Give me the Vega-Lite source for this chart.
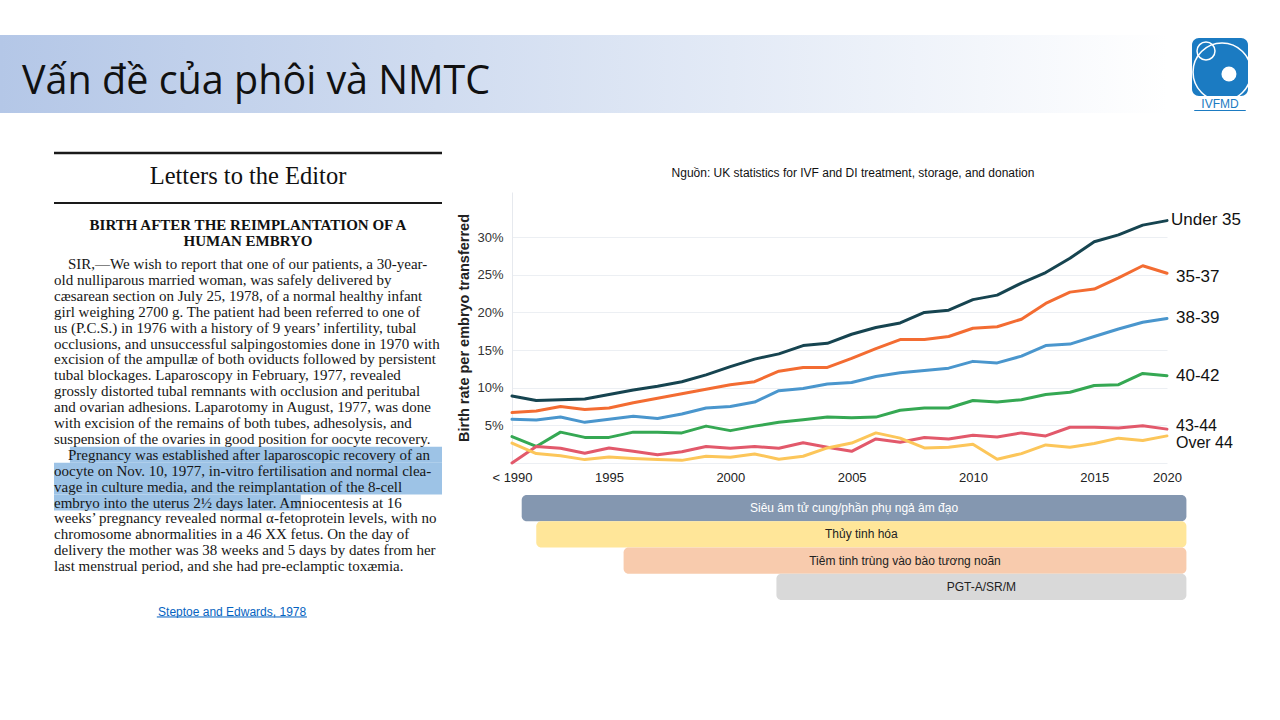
{
  "$schema": "https://vega.github.io/schema/vega-lite/v6.json",
  "background": "white",
  "padding": {"top": 35, "left": 0, "right": 0, "bottom": 0},
  "config": {"view": {"stroke": null}, "font": "Liberation Sans"},
  "bounds": "flush",
  "spacing": 157,
  "vconcat": [
    {
      "bounds": "flush",
      "spacing": 0,
      "hconcat": [
        {
          "width": 1192,
          "height": 78,
          "data": {"values": [{"heading": "Vấn đề của phôi và NMTC"}]},
          "layer": [
            {
              "mark": {"type": "rect", "fill": {"gradient": "linear", "x1": 0, "x2": 1, "y1": 0, "y2": 0, "stops": [{"offset": 0, "color": "#b4c7e7"}, {"offset": 0.98, "color": "#ffffff"}]}},
              "encoding": {
                "x": {"datum": 0, "type": "quantitative", "scale": {"domain": [0, 1], "nice": false, "zero": false}, "axis": null},
                "x2": {"datum": 1},
                "y": {"datum": 0, "type": "quantitative", "scale": {"domain": [0, 1], "nice": false, "zero": false}, "axis": null},
                "y2": {"datum": 1}
              }
            },
            {
              "mark": {"type": "text", "align": "left", "baseline": "alphabetic", "font": "Open Sans", "fontSize": 39.5, "color": "#111111"},
              "encoding": {
                "text": {"field": "heading"},
                "x": {"datum": 0.01846, "type": "quantitative", "axis": null},
                "y": {"datum": 0.2436, "type": "quantitative", "axis": null}
              }
            }
          ]
        },
        {
          "width": 56,
          "height": 61,
          "data": {"values": [{"logo": "IVFMD"}]},
          "layer": [
            {
              "mark": {"type": "rect", "fill": "#1b7bc2", "cornerRadius": 7},
              "encoding": {
                "x": {"datum": 0, "type": "quantitative", "scale": {"domain": [0, 1], "range": [0, 56], "nice": false, "zero": false}, "axis": null},
                "x2": {"datum": 1},
                "y": {"datum": 0, "type": "quantitative", "scale": {"domain": [0, 1], "range": [3, 61], "nice": false, "zero": false}, "axis": null},
                "y2": {"datum": 1}
              }
            },
            {
              "mark": {"type": "point", "shape": "circle", "filled": false, "stroke": "white", "strokeWidth": 1.5, "size": 3364, "opacity": 1, "clip": true},
              "encoding": {
                "x": {"datum": 0.536, "type": "quantitative", "axis": null},
                "y": {"datum": 0.586, "type": "quantitative", "axis": null}
              }
            },
            {
              "mark": {"type": "point", "shape": "circle", "filled": false, "stroke": "white", "strokeWidth": 1.5, "size": 324, "opacity": 1},
              "encoding": {
                "x": {"datum": 0.25, "type": "quantitative", "axis": null},
                "y": {"datum": 0.224, "type": "quantitative", "axis": null}
              }
            },
            {
              "mark": {"type": "circle", "fill": "white", "size": 225, "opacity": 1},
              "encoding": {
                "x": {"datum": 0.66, "type": "quantitative", "axis": null},
                "y": {"datum": 0.62, "type": "quantitative", "axis": null}
              }
            },
            {
              "mark": {"type": "text", "baseline": "middle", "align": "center", "fontSize": 12, "color": "#1b7bc2"},
              "encoding": {
                "text": {"field": "logo"},
                "x": {"datum": 0.5, "type": "quantitative", "axis": null},
                "y": {"datum": 1.14, "type": "quantitative", "axis": null}
              }
            },
            {
              "mark": {"type": "rule", "color": "#1b7bc2", "strokeWidth": 1},
              "encoding": {
                "x": {"datum": 0.04, "type": "quantitative", "axis": null},
                "x2": {"datum": 0.96},
                "y": {"datum": 1.25, "type": "quantitative", "axis": null}
              }
            }
          ]
        }
      ]
    },
    {
      "bounds": "flush",
      "spacing": 70,
      "hconcat": [
        {
          "width": 442,
          "height": 420,
          "layer": [
            {
              "data": {"values": [{"span": "highlight"}]},
              "mark": {"type": "rect", "fill": "#9dc3e6"},
              "encoding": {
                "x": {"datum": 0.041, "type": "quantitative", "scale": {"domain": [0, 1], "range": [54, 442], "nice": false, "zero": false}, "axis": null},
                "x2": {"datum": 1},
                "y": {"datum": 12.5, "type": "quantitative", "scale": {"domain": [1, 20], "range": [72, 374.1], "nice": false, "zero": false}, "axis": null},
                "y2": {"datum": 13.5}
              }
            },
            {
              "data": {"values": [{"span": "highlight"}]},
              "mark": {"type": "rect", "fill": "#9dc3e6"},
              "encoding": {
                "x": {"datum": 0, "type": "quantitative", "axis": null},
                "x2": {"datum": 1},
                "y": {"datum": 13.5, "type": "quantitative", "axis": null},
                "y2": {"datum": 15.5}
              }
            },
            {
              "data": {"values": [{"span": "highlight"}]},
              "mark": {"type": "rect", "fill": "#9dc3e6"},
              "encoding": {
                "x": {"datum": 0, "type": "quantitative", "axis": null},
                "x2": {"datum": 0.636},
                "y": {"datum": 15.5, "type": "quantitative", "axis": null},
                "y2": {"datum": 16.5}
              }
            },
            {
              "data": {"values": [{"rule": "top"}]},
              "mark": {"type": "rule", "color": "#1a1a1a", "strokeWidth": 2.5},
              "encoding": {
                "x": {"datum": 0, "type": "quantitative", "axis": null},
                "x2": {"datum": 1},
                "y": {"datum": -5.98, "type": "quantitative", "axis": null}
              }
            },
            {
              "data": {"values": [{"rule": "second"}]},
              "mark": {"type": "rule", "color": "#1a1a1a", "strokeWidth": 2},
              "encoding": {
                "x": {"datum": 0, "type": "quantitative", "axis": null},
                "x2": {"datum": 1},
                "y": {"datum": -2.84, "type": "quantitative", "axis": null}
              }
            },
            {
              "data": {"values": [{"h": "Letters to the Editor"}]},
              "mark": {"type": "text", "align": "center", "baseline": "middle", "font": "Liberation Serif", "fontSize": 24.5, "color": "#111111"},
              "encoding": {
                "text": {"field": "h"},
                "x": {"datum": 0.5, "type": "quantitative", "axis": null},
                "y": {"datum": -4.49, "type": "quantitative", "axis": null}
              }
            },
            {
              "data": {"values": [{"h": "BIRTH AFTER THE REIMPLANTATION OF A"}]},
              "mark": {"type": "text", "align": "center", "baseline": "middle", "font": "Liberation Serif", "fontSize": 15, "fontWeight": "bold", "color": "#111111"},
              "encoding": {
                "text": {"field": "h"},
                "x": {"datum": 0.5, "type": "quantitative", "axis": null},
                "y": {"datum": -1.45, "type": "quantitative", "axis": null}
              }
            },
            {
              "data": {"values": [{"h": "HUMAN EMBRYO"}]},
              "mark": {"type": "text", "align": "center", "baseline": "middle", "font": "Liberation Serif", "fontSize": 15, "fontWeight": "bold", "color": "#111111"},
              "encoding": {
                "text": {"field": "h"},
                "x": {"datum": 0.5, "type": "quantitative", "axis": null},
                "y": {"datum": -0.45, "type": "quantitative", "axis": null}
              }
            },
            {
              "data": {"values": [
                {"line": 1, "text": "SIR,—We wish to report that one of our patients, a 30-year-"},
                {"line": 2, "text": "old nulliparous married woman, was safely delivered by"},
                {"line": 3, "text": "cæsarean section on July 25, 1978, of a normal healthy infant"},
                {"line": 4, "text": "girl weighing 2700 g. The patient had been referred to one of"},
                {"line": 5, "text": "us (P.C.S.) in 1976 with a history of 9 years’ infertility, tubal"},
                {"line": 6, "text": "occlusions, and unsuccessful salpingostomies done in 1970 with"},
                {"line": 7, "text": "excision of the ampullæ of both oviducts followed by persistent"},
                {"line": 8, "text": "tubal blockages. Laparoscopy in February, 1977, revealed"},
                {"line": 9, "text": "grossly distorted tubal remnants with occlusion and peritubal"},
                {"line": 10, "text": "and ovarian adhesions. Laparotomy in August, 1977, was done"},
                {"line": 11, "text": "with excision of the remains of both tubes, adhesolysis, and"},
                {"line": 12, "text": "suspension of the ovaries in good position for oocyte recovery."},
                {"line": 13, "text": "Pregnancy was established after laparoscopic recovery of an"},
                {"line": 14, "text": "oocyte on Nov. 10, 1977, in-vitro fertilisation and normal clea-"},
                {"line": 15, "text": "vage in culture media, and the reimplantation of the 8-cell"},
                {"line": 16, "text": "embryo into the uterus 2½ days later. Amniocentesis at 16"},
                {"line": 17, "text": "weeks’ pregnancy revealed normal α-fetoprotein levels, with no"},
                {"line": 18, "text": "chromosome abnormalities in a 46 XX fetus. On the day of"},
                {"line": 19, "text": "delivery the mother was 38 weeks and 5 days by dates from her"},
                {"line": 20, "text": "last menstrual period, and she had pre-eclamptic toxæmia."}
              ]},
              "layer": [
                {
                  "transform": [{"filter": "datum.line != 1 && datum.line != 13"}],
                  "mark": {"type": "text", "align": "left", "baseline": "middle", "font": "Liberation Serif", "fontSize": 15, "color": "#161616"},
                  "encoding": {
                    "text": {"field": "text"},
                    "x": {"datum": 0, "type": "quantitative", "axis": null},
                    "y": {"field": "line", "type": "quantitative", "axis": null}
                  }
                },
                {
                  "transform": [{"filter": "datum.line == 1 || datum.line == 13"}],
                  "mark": {"type": "text", "align": "left", "baseline": "middle", "dx": 14, "font": "Liberation Serif", "fontSize": 15, "color": "#161616"},
                  "encoding": {
                    "text": {"field": "text"},
                    "x": {"datum": 0, "type": "quantitative", "axis": null},
                    "y": {"field": "line", "type": "quantitative", "axis": null}
                  }
                }
              ]
            },
            {
              "data": {"values": [{"ref": "Steptoe and Edwards, 1978"}]},
              "mark": {"type": "text", "align": "center", "baseline": "middle", "fontSize": 12, "color": "#0563c1"},
              "encoding": {
                "text": {"field": "ref"},
                "x": {"datum": 0.459, "type": "quantitative", "axis": null},
                "y": {"datum": 22.87, "type": "quantitative", "axis": null}
              }
            },
            {
              "data": {"values": [{"ref": "underline"}]},
              "mark": {"type": "rule", "color": "#0563c1", "strokeWidth": 1},
              "encoding": {
                "x": {"datum": 0.265, "type": "quantitative", "axis": null},
                "x2": {"datum": 0.652},
                "y": {"datum": 23.2, "type": "quantitative", "axis": null}
              }
            }
          ]
        },
        {
          "bounds": "flush",
          "spacing": 32,
          "resolve": {"scale": {"color": "independent", "x": "independent"}},
          "vconcat": [
            {
              "width": 655,
              "height": 271,
              "title": {"text": "Nguồn: UK statistics for IVF and DI treatment, storage, and donation", "fontSize": 12, "fontWeight": "normal", "font": "Liberation Sans", "color": "#111111", "anchor": "middle", "frame": "bounds", "offset": 12, "dx": 4},
              "data": {"values": [
                {"year": 1991, "Under 35": 8.9, "35-37": 6.7, "38-39": 5.8, "40-42": 3.5, "43-44": 0.0, "Over 44": 2.65},
                {"year": 1992, "Under 35": 8.3, "35-37": 6.9, "38-39": 5.7, "40-42": 2.2, "43-44": 2.2, "Over 44": 1.25},
                {"year": 1993, "Under 35": 8.4, "35-37": 7.5, "38-39": 6.1, "40-42": 4.1, "43-44": 1.95, "Over 44": 0.95},
                {"year": 1994, "Under 35": 8.5, "35-37": 7.1, "38-39": 5.4, "40-42": 3.4, "43-44": 1.3, "Over 44": 0.45},
                {"year": 1995, "Under 35": 9.1, "35-37": 7.3, "38-39": 5.8, "40-42": 3.4, "43-44": 2.0, "Over 44": 0.8},
                {"year": 1996, "Under 35": 9.7, "35-37": 8.0, "38-39": 6.2, "40-42": 4.1, "43-44": 1.55, "Over 44": 0.6},
                {"year": 1997, "Under 35": 10.2, "35-37": 8.6, "38-39": 5.9, "40-42": 4.1, "43-44": 1.1, "Over 44": 0.45},
                {"year": 1998, "Under 35": 10.8, "35-37": 9.2, "38-39": 6.5, "40-42": 4.0, "43-44": 1.5, "Over 44": 0.35},
                {"year": 1999, "Under 35": 11.7, "35-37": 9.8, "38-39": 7.3, "40-42": 4.9, "43-44": 2.2, "Over 44": 0.9},
                {"year": 2000, "Under 35": 12.8, "35-37": 10.4, "38-39": 7.5, "40-42": 4.3, "43-44": 1.95, "Over 44": 0.75},
                {"year": 2001, "Under 35": 13.8, "35-37": 10.8, "38-39": 8.1, "40-42": 4.9, "43-44": 2.2, "Over 44": 1.2},
                {"year": 2002, "Under 35": 14.5, "35-37": 12.2, "38-39": 9.6, "40-42": 5.4, "43-44": 1.95, "Over 44": 0.5},
                {"year": 2003, "Under 35": 15.6, "35-37": 12.7, "38-39": 9.9, "40-42": 5.75, "43-44": 2.7, "Over 44": 0.9},
                {"year": 2004, "Under 35": 15.9, "35-37": 12.7, "38-39": 10.5, "40-42": 6.1, "43-44": 2.1, "Over 44": 2.0},
                {"year": 2005, "Under 35": 17.1, "35-37": 13.9, "38-39": 10.7, "40-42": 6.0, "43-44": 1.55, "Over 44": 2.65},
                {"year": 2006, "Under 35": 18.0, "35-37": 15.2, "38-39": 11.5, "40-42": 6.1, "43-44": 3.2, "Over 44": 4.0},
                {"year": 2007, "Under 35": 18.6, "35-37": 16.4, "38-39": 12.0, "40-42": 7.0, "43-44": 2.75, "Over 44": 3.3},
                {"year": 2008, "Under 35": 20.0, "35-37": 16.4, "38-39": 12.3, "40-42": 7.3, "43-44": 3.4, "Over 44": 2.0},
                {"year": 2009, "Under 35": 20.3, "35-37": 16.8, "38-39": 12.6, "40-42": 7.3, "43-44": 3.2, "Over 44": 2.1},
                {"year": 2010, "Under 35": 21.7, "35-37": 17.9, "38-39": 13.5, "40-42": 8.3, "43-44": 3.7, "Over 44": 2.5},
                {"year": 2011, "Under 35": 22.3, "35-37": 18.1, "38-39": 13.3, "40-42": 8.1, "43-44": 3.45, "Over 44": 0.5},
                {"year": 2012, "Under 35": 23.9, "35-37": 19.1, "38-39": 14.2, "40-42": 8.4, "43-44": 4.0, "Over 44": 1.25},
                {"year": 2013, "Under 35": 25.3, "35-37": 21.2, "38-39": 15.6, "40-42": 9.1, "43-44": 3.6, "Over 44": 2.4},
                {"year": 2014, "Under 35": 27.2, "35-37": 22.7, "38-39": 15.8, "40-42": 9.4, "43-44": 4.75, "Over 44": 2.1},
                {"year": 2015, "Under 35": 29.4, "35-37": 23.1, "38-39": 16.8, "40-42": 10.3, "43-44": 4.75, "Over 44": 2.6},
                {"year": 2016, "Under 35": 30.3, "35-37": 24.6, "38-39": 17.8, "40-42": 10.4, "43-44": 4.65, "Over 44": 3.3},
                {"year": 2017, "Under 35": 31.6, "35-37": 26.2, "38-39": 18.7, "40-42": 11.9, "43-44": 4.95, "Over 44": 3.0},
                {"year": 2018, "Under 35": 32.2, "35-37": 25.2, "38-39": 19.2, "40-42": 11.6, "43-44": 4.5, "Over 44": 3.6}
              ]},
              "transform": [{"fold": ["Under 35", "35-37", "38-39", "40-42", "43-44", "Over 44"], "as": ["series", "rate"]}],
              "encoding": {
                "x": {"field": "year", "type": "quantitative", "scale": {"domain": [1991, 2018], "nice": false, "zero": false},
                  "axis": {"values": [1991, 1995, 2000, 2005, 2010, 2015, 2018], "format": "d", "labelExpr": "datum.value == 1991 ? '< 1990' : datum.value == 2018 ? '2020' : datum.label", "title": null, "grid": false, "ticks": false, "domain": false, "labelFontSize": 13, "labelColor": "#222222", "labelPadding": 8, "labelFlush": false, "labelOverlap": false}},
                "y": {"field": "rate", "type": "quantitative", "scale": {"domain": [0, 36], "nice": false},
                  "axis": {"values": [0, 5, 10, 15, 20, 25, 30], "labelExpr": "datum.value == 0 ? '' : datum.value + '%'", "title": "Birth rate per embryo transferred", "titleFontSize": 14.5, "titleFontWeight": "bold", "titleColor": "#222222", "titlePadding": 5, "labelFontSize": 13, "labelColor": "#333333", "labelPadding": 9, "ticks": false, "domain": true, "domainColor": "#e6e9ee", "grid": true, "gridColor": "#eceff3", "gridWidth": 1}}
              },
              "layer": [
                {
                  "mark": {"type": "line", "strokeWidth": 3, "strokeJoin": "round", "strokeCap": "round"},
                  "encoding": {"color": {"field": "series", "type": "nominal", "scale": {"domain": ["Under 35", "35-37", "38-39", "40-42", "43-44", "Over 44"], "range": ["#164450", "#f36c32", "#4a96cd", "#35a853", "#e2596b", "#fcc65a"]}, "legend": null}}
                },
                {
                  "transform": [{"filter": "datum.year == 2018 && datum.series == 'Under 35'"}],
                  "mark": {"type": "text", "align": "left", "baseline": "middle", "dx": 4, "dy": -1, "fontSize": 17, "color": "#111111"},
                  "encoding": {"text": {"field": "series"}}
                },
                {
                  "transform": [{"filter": "datum.year == 2018 && (datum.series == '38-39' || datum.series == '40-42')"}],
                  "mark": {"type": "text", "align": "left", "baseline": "middle", "dx": 9, "dy": 0, "fontSize": 17, "color": "#111111"},
                  "encoding": {"text": {"field": "series"}}
                },
                {
                  "transform": [{"filter": "datum.year == 2018 && datum.series == '35-37'"}],
                  "mark": {"type": "text", "align": "left", "baseline": "middle", "dx": 9, "dy": 4, "fontSize": 17, "color": "#111111"},
                  "encoding": {"text": {"field": "series"}}
                },
                {
                  "transform": [{"filter": "datum.year == 2018 && datum.series == '43-44'"}],
                  "mark": {"type": "text", "align": "left", "baseline": "middle", "dx": 9, "dy": -3, "fontSize": 16, "color": "#111111"},
                  "encoding": {"text": {"field": "series"}}
                },
                {
                  "transform": [{"filter": "datum.year == 2018 && datum.series == 'Over 44'"}],
                  "mark": {"type": "text", "align": "left", "baseline": "middle", "dx": 9, "dy": 7, "fontSize": 16, "color": "#111111"},
                  "encoding": {"text": {"field": "series"}}
                }
              ]
            },
            {
              "width": 655,
              "height": 105,
              "data": {"values": [
                {"tech": "Siêu âm tử cung/phần phụ ngả âm đạo", "start": 1991.4, "end": 2018.8},
                {"tech": "Thủy tinh hóa", "start": 1992.0, "end": 2018.8},
                {"tech": "Tiêm tinh trùng vào bào tương noãn", "start": 1995.6, "end": 2018.8},
                {"tech": "PGT-A/SR/M", "start": 2001.9, "end": 2018.8}
              ]},
              "encoding": {
                "y": {"field": "tech", "type": "nominal", "sort": null, "scale": {"paddingInner": 0, "paddingOuter": 0}, "axis": null}
              },
              "layer": [
                {
                  "mark": {"type": "bar", "cornerRadius": 5},
                  "encoding": {
                    "x": {"field": "start", "type": "quantitative", "scale": {"domain": [1991, 2018], "nice": false, "zero": false}, "axis": null},
                    "x2": {"field": "end"},
                    "color": {"field": "tech", "type": "nominal", "scale": {"domain": ["Siêu âm tử cung/phần phụ ngả âm đạo", "Thủy tinh hóa", "Tiêm tinh trùng vào bào tương noãn", "PGT-A/SR/M"], "range": ["#8497b0", "#ffe699", "#f8cbad", "#d9d9d9"]}, "legend": null}
                  }
                },
                {
                  "transform": [{"calculate": "(datum.start + datum.end) / 2", "as": "mid"}],
                  "mark": {"type": "text", "fontSize": 12, "baseline": "middle", "align": "center"},
                  "encoding": {
                    "x": {"field": "mid", "type": "quantitative", "axis": null},
                    "text": {"field": "tech"},
                    "color": {"condition": {"test": "datum.tech == 'Siêu âm tử cung/phần phụ ngả âm đạo'", "value": "#ffffff"}, "value": "#222222"}
                  }
                }
              ]
            }
          ]
        }
      ]
    }
  ]
}
